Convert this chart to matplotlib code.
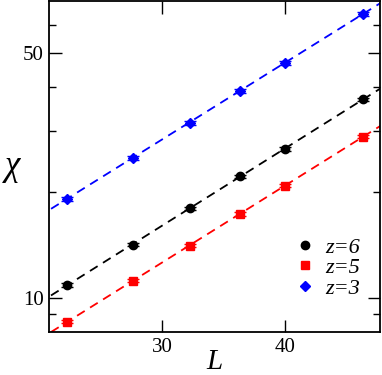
import numpy as np
import matplotlib.pyplot as plt
from matplotlib.ticker import FixedLocator, NullFormatter, NullLocator

plt.rcParams['font.family'] = ['Liberation Serif', 'DejaVu Serif']

# system sizes
L = [24, 28, 32, 36, 40, 48]
# susceptibility for each coordination number
chi_z6 = [10.9, 14.2, 18.0, 22.2, 26.6, 36.8]
chi_z5 = [8.56, 11.2, 14.1, 17.35, 20.9, 28.8]
chi_z3 = [19.2, 25.1, 31.6, 39.0, 46.8, 64.4]
# statistical errors
err_z6 = [0.12, 0.15, 0.2, 0.25, 0.3, 0.4]
err_z5 = [0.1, 0.12, 0.15, 0.2, 0.23, 0.3]
err_z3 = [0.25, 0.3, 0.4, 0.5, 0.6, 0.8]

series = [
    (chi_z6, err_z6, 'black', 'o', 6.0, 'z=6'),
    (chi_z5, err_z5, 'red', 's', 5.3, 'z=5'),
    (chi_z3, err_z3, 'blue', 'D', 5.3, 'z=3'),
]

fig = plt.figure(figsize=(3.82, 3.75), dpi=100)
ax = fig.add_axes([49 / 382, 1 - 332 / 375, 331 / 382, 331 / 375])

xfit = np.geomspace(20, 55, 50)
for chi, err, col, mk, ms, lab in series:
    p = np.polyfit(np.log(L), np.log(chi), 1)
    ax.plot(xfit, np.exp(np.polyval(p, np.log(xfit))), '--', color=col,
            lw=1.3, dashes=(5, 3.5))
    ax.errorbar(L, chi, yerr=err, fmt=mk, color=col, ms=ms, capsize=4.5,
                elinewidth=1, capthick=1, label=lab)

ax.set_xscale('log')
ax.set_yscale('log')
ax.set_xlim(23, 50)
ax.set_ylim(8, 70.2)

ax.xaxis.set_major_locator(FixedLocator([30, 40]))
ax.xaxis.set_minor_locator(NullLocator())
ax.xaxis.set_major_formatter(plt.FixedFormatter(['30', '40']))
ax.yaxis.set_major_locator(FixedLocator([10, 50]))
ax.yaxis.set_major_formatter(plt.FixedFormatter(['10', '50']))
ax.yaxis.set_minor_locator(FixedLocator([9, 20, 30, 40, 60]))
ax.yaxis.set_minor_formatter(NullFormatter())

ax.tick_params(which='both', direction='in', top=True, right=True,
               labelsize=15, width=1)
ax.tick_params(which='major', length=9, pad=4)
ax.tick_params(which='minor', length=5)
for s in ax.spines.values():
    s.set_linewidth(1.3)

ax.set_xlabel('L', fontsize=21, style='italic')
ax.xaxis.set_label_coords(0.5, -43 / 331, transform=ax.transAxes)
ax.xaxis.label.set_va('bottom')
ax.set_ylabel('χ', fontsize=25, rotation=0, style='italic')
ax.yaxis.set_label_coords(-0.11, 0.50)
ax.yaxis.label.set_va('center')

handles, labels = ax.get_legend_handles_labels()
handles = [h[0] for h in handles]
ax.legend(handles, labels, loc='lower right', bbox_to_anchor=(1.0, 0.04),
          frameon=False, prop={'size': 16, 'style': 'italic'},
          handletextpad=0.15, labelspacing=0.0, handlelength=1.5)

fig.savefig('out.png', dpi=100)
